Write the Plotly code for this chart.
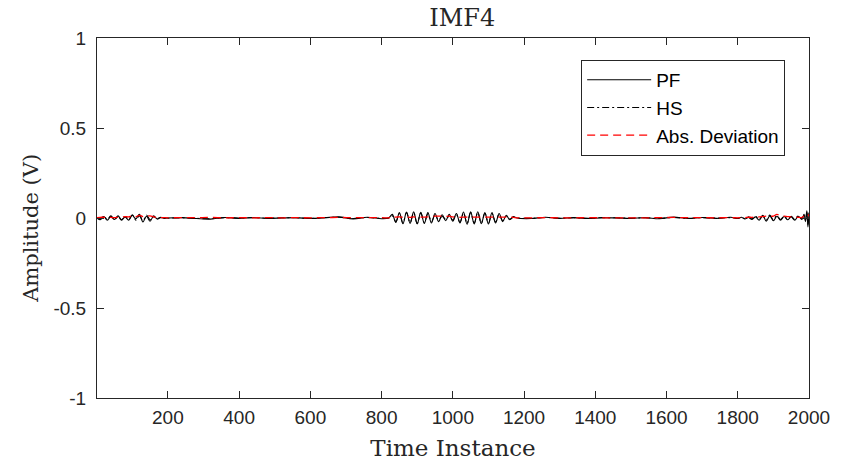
import plotly.graph_objects as go

# Sample indices (knots)
time_knots = (list([1] + list(range(10, 201, 10)))
              + list(range(240, 801, 40))
              + list(range(820, 1181, 10))
              + list(range(1220, 1781, 40))
              + list(range(1800, 1981, 10)) + [1986, 1990, 1994, 1997, 2000])

pf_values = [
    0.0, -0.01, 0.008, -0.012, 0.01, -0.008, 0.012, -0.01, 0.005, -0.012, 0.015,
    -0.005, 0.02, -0.022, 0.01, -0.018, 0.012, -0.006, 0.004, -0.002, 0.0,
    0.002, -0.003, -0.006, 0.003, -0.002, 0.002, -0.002, 0.0, 0.002, -0.003,
    0.001, 0.006, -0.005, 0.004, -0.004,
    0.0, 0.02, -0.025, 0.03, -0.032, 0.033, -0.03, 0.034, -0.033, 0.032, -0.03,
    0.03, -0.028, 0.025, -0.02, 0.018, -0.015, 0.02, -0.018, 0.025, -0.028,
    0.033, -0.035, 0.034, -0.033, 0.035, -0.032, 0.03, -0.033, 0.03, -0.028,
    0.025, -0.02, 0.015, -0.01, 0.008, 0.0,
    -0.003, 0.004, -0.002, 0.002, -0.003, 0.001, 0.0, -0.002, 0.002, -0.004,
    0.005, -0.003, 0.003, -0.002, 0.004,
    -0.003, 0.004, -0.005, 0.003, -0.008, 0.006, -0.012, 0.015, -0.018, 0.012,
    -0.015, 0.01, -0.012, 0.008, -0.01, 0.006, -0.012, 0.01, -0.008,
    0.02, -0.02, 0.04, -0.05, 0.03,
]

hs_values = [
    0.002, -0.006, 0.01, -0.008, 0.012, -0.01, 0.008, -0.012, 0.01, -0.008, 0.018,
    -0.012, 0.012, -0.015, 0.016, -0.01, 0.006, -0.003, 0.002, 0.0, -0.001,
    0.001, -0.002, -0.004, 0.002, -0.001, 0.003, -0.001, 0.001, 0.001, -0.002,
    0.002, 0.004, -0.003, 0.003, -0.002,
    0.0, 0.012, -0.02, 0.025, -0.028, 0.03, -0.026, 0.028, -0.03, 0.027, -0.025,
    0.024, -0.02, 0.015, -0.01, 0.008, -0.006, 0.01, -0.012, 0.02, -0.024,
    0.028, -0.03, 0.03, -0.028, 0.03, -0.027, 0.026, -0.028, 0.025, -0.022,
    0.02, -0.015, 0.01, -0.006, 0.004, 0.0,
    -0.002, 0.003, -0.001, 0.001, -0.002, 0.002, 0.001, -0.001, 0.001, -0.003,
    0.003, -0.002, 0.002, -0.001, 0.002,
    -0.002, 0.002, -0.003, 0.006, -0.005, 0.01, -0.008, 0.012, -0.012, 0.016,
    -0.01, 0.014, -0.008, 0.01, -0.006, 0.009, -0.008, 0.012, -0.005,
    0.015, -0.012, 0.03, -0.035, 0.025,
]

dev_values = [
    0.002, 0.004, 0.004, 0.004, 0.003, 0.002, 0.004, 0.005, 0.008, 0.006, 0.012,
    0.007, 0.015, 0.008, 0.01, 0.012, 0.006, 0.003, 0.002, 0.002, 0.001,
    0.002, 0.002, 0.003, 0.001, 0.002, 0.001, 0.002, 0.001, 0.002, 0.001,
    0.002, 0.003, 0.002, 0.002, 0.002,
    0.001, 0.008, 0.005, 0.006, 0.004, 0.005, 0.004, 0.006, 0.003, 0.005, 0.005,
    0.006, 0.008, 0.01, 0.01, 0.01, 0.009, 0.01, 0.006, 0.005, 0.004,
    0.005, 0.005, 0.004, 0.005, 0.005, 0.005, 0.004, 0.005, 0.005, 0.006,
    0.005, 0.005, 0.005, 0.004, 0.004, 0.001,
    0.001, 0.002, 0.001, 0.001, 0.002, 0.001, 0.001, 0.001, 0.001, 0.002,
    0.003, 0.002, 0.002, 0.001, 0.002,
    0.001, 0.002, 0.002, 0.004, 0.004, 0.005, 0.006, 0.008, 0.01, 0.012,
    0.01, 0.02, 0.012, 0.01, 0.008, 0.006, 0.006, 0.004, 0.003,
    0.01, 0.01, 0.015, 0.02, 0.01,
]

x_ticks = [200, 400, 600, 800, 1000, 1200, 1400, 1600, 1800, 2000]
y_ticks = [-1, -0.5, 0, 0.5, 1]
y_tick_text = ["-1", "-0.5", "0", "0.5", "1"]

AX = "#262626"
SANS = "Liberation Sans, Arial, sans-serif"
SERIF = "DejaVu Serif, serif"

fig = go.Figure()
fig.add_trace(go.Scatter(x=time_knots, y=pf_values, name="PF", mode="lines",
                         line=dict(color="black", width=1.1, shape="spline")))
fig.add_trace(go.Scatter(x=time_knots, y=hs_values, name="HS", mode="lines",
                         line=dict(color="black", width=1.1, shape="spline",
                                   dash="7px,3px,2px,3px")))
fig.add_trace(go.Scatter(x=time_knots, y=dev_values, name="Abs. Deviation", mode="lines",
                         line=dict(color="#ff0000", width=1.3, shape="spline",
                                   dash="8px,5px")))

axis_common = dict(showgrid=False, zeroline=False, showline=True, linecolor=AX,
                   linewidth=1, mirror="ticks", ticks="inside", ticklen=7,
                   tickcolor=AX, tickwidth=1,
                   tickfont=dict(family=SANS, size=19, color=AX))

fig.update_layout(
    width=842, height=470,
    margin=dict(l=97, r=29, t=38, b=72),
    paper_bgcolor="white", plot_bgcolor="white",
    title=dict(text="IMF4", x=0.549, xanchor="center", y=0.962, yanchor="middle",
               font=dict(family=SERIF, size=24, color=AX)),
    xaxis=dict(range=[1, 2000], tickvals=x_ticks, ticklabelstandoff=2,
               title=dict(text="Time Instance", font=dict(family=SERIF, size=23, color=AX),
                          standoff=13),
               **axis_common),
    yaxis=dict(range=[-1, 1], tickvals=y_ticks, ticktext=y_tick_text,
               ticklabelstandoff=6, **axis_common),
    legend=dict(x=0.68, y=0.939, xanchor="left", yanchor="top",
                bgcolor="white", bordercolor=AX, borderwidth=1,
                font=dict(family=SANS, size=19, color="black"),
                itemwidth=64, tracegroupgap=0),
    showlegend=True,
    annotations=[dict(text="Amplitude (V)", textangle=-90, showarrow=False,
                      xref="paper", yref="paper", x=-0.093, y=0.472,
                      xanchor="center", yanchor="middle",
                      font=dict(family=SERIF, size=21, color=AX))],
)

fig.write_html("out.html")
